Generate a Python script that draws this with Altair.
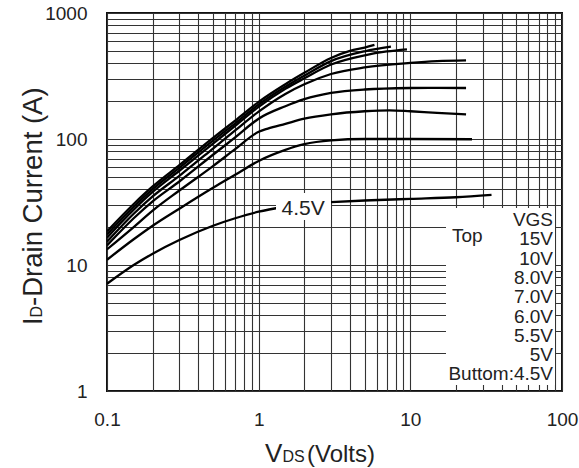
import altair as alt
import pandas as pd

FONT = "Liberation Sans"
INK = "#222222"

# ---- data (VDS in volts, ID in amps) ----
vgs_labels = ["15V", "10V", "8.0V", "7.0V", "6.0V", "5.5V", "5V", "4.5V"]

vds_15 = [0.1, 0.15, 0.2, 0.3, 0.5, 0.7, 1, 1.5, 2, 3, 4, 5, 5.8]
id_15 = [18.5, 30.5, 42, 62, 102, 140, 197, 272, 335, 440, 500, 532, 558]

vds_10 = [0.1, 0.15, 0.2, 0.3, 0.5, 0.7, 1, 1.5, 2, 3, 5, 7.45]
id_10 = [17.5, 29, 40, 59, 97, 133, 188, 260, 318, 415, 497, 540]

vds_8 = [0.1, 0.15, 0.2, 0.3, 0.5, 0.7, 1, 1.5, 2, 3, 5, 7, 9.5]
id_8 = [16.5, 27.5, 38, 56, 92, 127, 180, 250, 303, 390, 462, 495, 515]

vds_7 = [0.1, 0.15, 0.2, 0.3, 0.5, 0.7, 1, 1.5, 2, 3, 5, 10, 15, 23.3]
id_7 = [15.3, 25.5, 35, 51, 84, 117, 165, 228, 272, 328, 370, 402, 415, 421]

vds_6 = [0.1, 0.15, 0.2, 0.3, 0.5, 0.7, 1, 1.5, 2, 3, 5, 10, 15, 23.3]
id_6 = [14.3, 23.5, 32, 46, 75, 103, 145, 182, 207, 232, 247, 254, 255, 254]

vds_55 = [0.1, 0.15, 0.2, 0.3, 0.5, 0.7, 1, 1.15, 1.5, 2, 3, 5, 7.3, 10, 15, 23.3]
id_55 = [13.3, 20, 27, 39, 61, 83, 114, 121, 132, 145, 157, 166, 169, 166, 161, 157]

vds_5 = [0.1, 0.15, 0.2, 0.3, 0.5, 0.7, 1, 1.5, 2, 3, 5, 10, 25.5]
id_5 = [11, 16, 20.5, 28, 41, 52, 67, 82, 91, 97.5, 100, 100, 99.5]

vds_45 = [0.1, 0.15, 0.2, 0.3, 0.5, 0.7, 1, 1.5, 2, 3, 5, 10, 20, 34.3]
id_45 = [7.1, 10, 12.3, 15.8, 20.5, 23.5, 26.5, 29, 30.5, 31.5, 32.5, 33.5, 34.5, 36]

series = [
    ("15V", vds_15, id_15), ("10V", vds_10, id_10), ("8.0V", vds_8, id_8),
    ("7.0V", vds_7, id_7), ("6.0V", vds_6, id_6), ("5.5V", vds_55, id_55),
    ("5V", vds_5, id_5), ("4.5V", vds_45, id_45),
]

x_grid = [0.1, 0.2, 0.3, 0.4, 0.5, 0.6, 0.7, 0.8, 0.9,
          1, 2, 3, 4, 5, 6, 7, 8, 9,
          10, 20, 30, 40, 50, 60, 70, 80, 90, 100]
y_grid = [1, 2, 3, 4, 5, 6, 7, 8, 9,
          10, 20, 30, 40, 50, 60, 70, 80, 90,
          100, 200, 300, 400, 500, 600, 700, 800, 900, 1000]

legend_lines = ["VGS", "15V", "10V", "8.0V", "7.0V", "6.0V", "5.5V", "5V", "Buttom:4.5V"]

rows = []
for name, xs, ys in series:
    for i, (xv, yv) in enumerate(zip(xs, ys)):
        rows.append({"vgs": name, "vds": xv, "id": yv, "k": i})
df = pd.DataFrame(rows)

W, H = 455, 378

x_axis = alt.Axis(
    values=x_grid, title=None, grid=True, ticks=False, tickSize=0, domain=False,
    labelExpr="indexof([0.1, 1, 10, 100], datum.value) >= 0 ? format(datum.value, '~g') : ''",
    labelFontSize=19, labelFont=FONT, labelColor=INK, labelPadding=19,
    labelFlush=False, labelOverlap=False,
    gridColor="#333333", gridWidth=1.1, gridOpacity=1,
)
y_axis = alt.Axis(
    values=y_grid, title=None, grid=True, ticks=False, tickSize=0, domain=False,
    labelExpr="indexof([1, 10, 100, 1000], datum.value) >= 0 ? format(datum.value, '~g') : ''",
    labelFontSize=19, labelFont=FONT, labelColor=INK, labelPadding=20,
    labelFlush=False, labelOverlap=False,
    gridColor="#333333", gridWidth=1.1, gridOpacity=1,
)

lines = alt.Chart(df).mark_line(
    color="black", strokeWidth=2.3, interpolate="monotone", clip=True
).encode(
    x=alt.X("vds:Q", scale=alt.Scale(type="log", domain=[0.1, 100], nice=False), axis=x_axis),
    y=alt.Y("id:Q", scale=alt.Scale(type="log", domain=[1, 1000], nice=False), axis=y_axis),
    detail="vgs:N",
    order="k:Q",
)


def box(x1, x2, y1, y2):
    return alt.Chart(pd.DataFrame({"t": [0]})).mark_rect(color="white").encode(
        x=alt.value(x1), x2=alt.value(x2), y=alt.value(y1), y2=alt.value(y2)
    )


def label(txt, x, y, size, align="left", angle=0):
    return alt.Chart(pd.DataFrame({"t": [txt]})).mark_text(
        align=align, baseline="alphabetic", fontSize=size, font=FONT,
        color=INK, angle=angle
    ).encode(x=alt.value(x), y=alt.value(y), text="t:N")


layers = [lines, box(339, 448, 195, 372), box(169, 224, 180, 207)]
layers.append(label("4.5V", 174.5, 202, 21))
layers.append(label("Top", 345, 228.7, 19))
for i, t in enumerate(legend_lines):
    layers.append(label(t, 446, 213 + i * 19.3, 19, align="right"))

# axis titles with small subscripts
layers.append(label("I", -65, 312, 27, angle=270))
layers.append(label("D", -65, 304.5, 16, angle=270))
layers.append(label("-Drain Current (A)", -65, 292.9, 27.5, angle=270))
layers.append(label("V", 158, 449, 26))
layers.append(label("DS", 175.5, 449, 16))
layers.append(label("(Volts)", 200, 449, 24))

chart = alt.layer(*layers).properties(
    width=W, height=H,
    autosize=alt.AutoSizeParams(type="none"),
    padding={"left": 107, "top": 13, "right": 17, "bottom": 77},
    background="white",
).configure_view(stroke="#111111", strokeWidth=2)

chart.save("out.html", embed_options={"renderer": "svg", "actions": False})
